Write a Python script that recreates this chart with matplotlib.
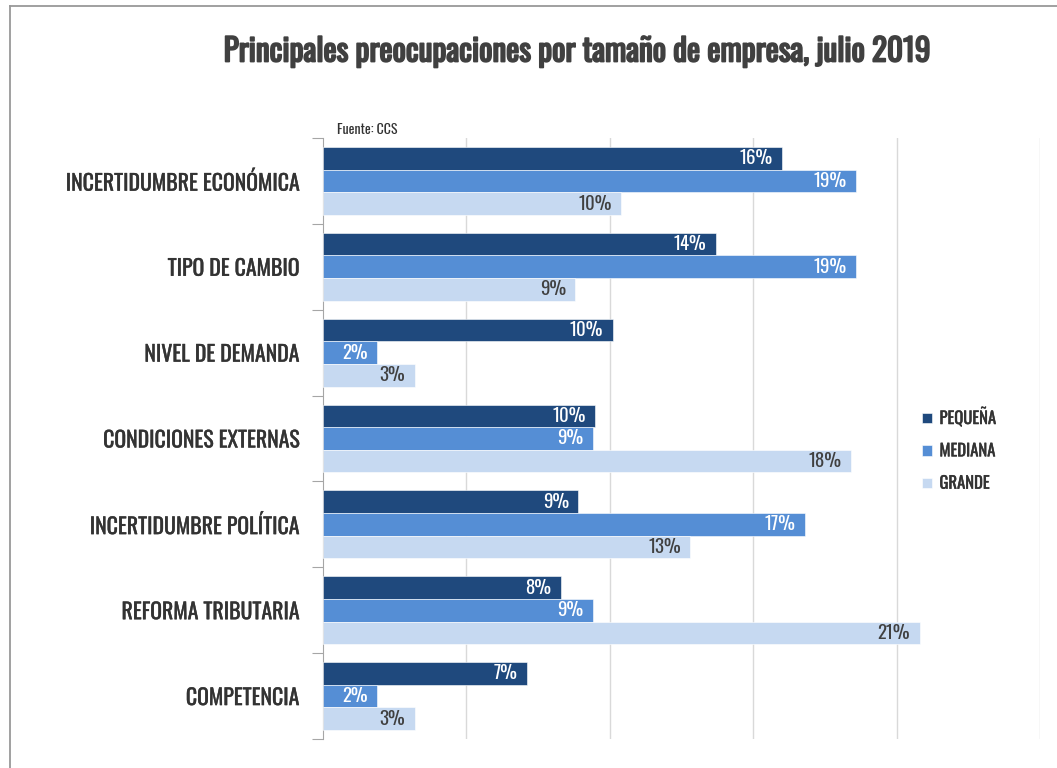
import matplotlib
matplotlib.use("Agg")
import matplotlib.pyplot as plt
import matplotlib.patheffects as pe
from matplotlib import font_manager
import numpy as np

categories = ["INCERTIDUMBRE ECONÓMICA", "TIPO DE CAMBIO", "NIVEL DE DEMANDA",
              "CONDICIONES EXTERNAS", "INCERTIDUMBRE POLÍTICA", "REFORMA TRIBUTARIA",
              "COMPETENCIA"]
series_names = ["PEQUEÑA", "MEDIANA", "GRANDE"]
pequena = [16.0, 13.7, 10.1, 9.5, 8.9, 8.3, 7.1]
mediana = [18.6, 18.6, 1.9, 9.4, 16.8, 9.4, 1.9]
grande = [10.4, 8.8, 3.2, 18.4, 12.8, 20.8, 3.2]
colors = ["#1F497D", "#558ED5", "#C6D9F1"]
label_colors = ["white", "white", "#404040"]

names = {f.name for f in font_manager.fontManager.ttflist}
FONT = "DejaVu Sans"
for cand in ["Oswald", "Roboto Condensed", "Liberation Sans Narrow", "Open Sans Condensed"]:
    if cand in names:
        FONT = cand
        break
plt.rcParams["font.family"] = [FONT, "DejaVu Sans"]

fig = plt.figure(figsize=(10.57, 7.68), dpi=100)
ax = fig.add_axes([323/1057, 1-739/768, (1040-323)/1057, (739-138)/768])

n = len(categories)
centers = np.arange(n) + 0.5
h = 0.264
data = [pequena, mediana, grande]
for k, (vals, c, lc) in enumerate(zip(data, colors, label_colors)):
    ys = centers + (k - 1) * h
    bars = ax.barh(ys, vals, height=h, color=c, edgecolor="white", linewidth=0.4,
                   label=series_names[k], zorder=3)
    for b, v in zip(bars, vals):
        ax.text(v - 0.33, b.get_y() + h/2, f"{round(v):d}%", ha="right", va="center",
                color=lc, fontsize=13.5, zorder=4)

ax.set_xlim(0, 25)
ax.set_ylim(n, 0)
ax.set_xticks([5, 10, 15, 20, 25])
ax.set_xticklabels([])
ax.tick_params(axis="x", length=0)
ax.grid(axis="x", color="#D9D9D9", linewidth=1, zorder=0)
ax.set_yticks(np.arange(n + 1))
ax.set_yticklabels([])
ax.tick_params(axis="y", which="major", length=8, color="#A6A6A6", direction="out")
ax.set_yticks(centers, minor=True)
ax.set_yticklabels(categories, minor=True, fontsize=15.7, color="#333333")
for t in ax.get_yticklabels(minor=True):
    t.set_path_effects([pe.withStroke(linewidth=0.25, foreground="#333333")])
ax.tick_params(axis="y", which="minor", length=0, pad=17)
for s in ["top", "right", "bottom"]:
    ax.spines[s].set_visible(False)
ax.spines["left"].set_color("#A6A6A6")

leg = ax.legend(loc="center left", bbox_to_anchor=((907-323)/(1040-323), (739-449)/601),
                frameon=False, fontsize=12, handlelength=0.6, handleheight=0.6,
                labelspacing=0.92, handletextpad=0.45)
for t in leg.get_texts():
    t.set_color("#333333")
    t.set_path_effects([pe.withStroke(linewidth=0.3, foreground="#333333")])

fig.text(0.546, 1-52/768, "Principales preocupaciones por tamaño de empresa, julio 2019",
         ha="center", va="center", fontsize=22.5, fontweight="bold", color="#404040",
         path_effects=[pe.withStroke(linewidth=1.3, foreground="#404040")])
fig.text(337/1057, 1-130/768, "Fuente: CCS", ha="left", va="center", fontsize=10,
         color="#333333")

# outer frame lines
fig.add_artist(plt.Line2D([10/1057, 1], [1-6/768, 1-6/768], color="#999999", lw=1.3))
fig.add_artist(plt.Line2D([10/1057, 10/1057], [0, 1-6/768], color="#999999", lw=1.3))

fig.savefig("out.png", dpi=100)
